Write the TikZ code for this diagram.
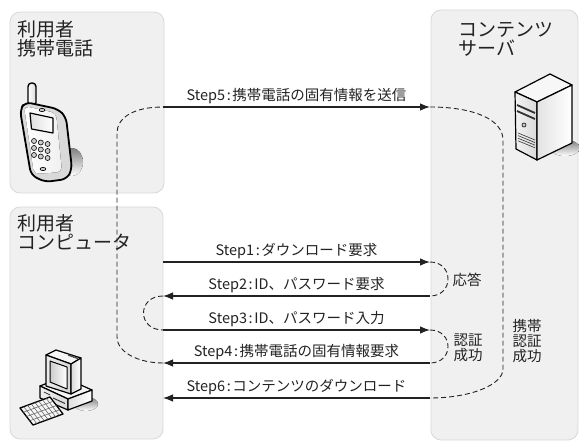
\documentclass[tikz,border=0pt]{standalone}
\usepackage{fontspec}
\setmainfont{Noto Sans CJK JP}
\usetikzlibrary{arrows.meta}
\definecolor{panelfill}{HTML}{F0F0F0}
\definecolor{paneledge}{HTML}{D8D8D8}
\definecolor{ink}{HTML}{222222}
\definecolor{shade}{HTML}{D9D9D9}
\newcommand{\stepcolon}{\kern1.6pt:\kern1.6pt}
\begin{document}
\begin{tikzpicture}[x=1pt,y=-1pt,
  panel/.style={fill=panelfill,draw=paneledge,line width=0.8pt,rounded corners=10pt},
  head/.style={anchor=north west,inner sep=0pt,align=left,text=ink,
    font=\fontsize{19}{19}\selectfont},
  flow/.style={line width=1.1pt,draw=ink,-{Latex[length=10pt,width=7.5pt]}},
  lbl/.style={midway,yshift=10.5pt,inner sep=0pt,text=ink,
    font=\fontsize{14.5}{15}\selectfont},
  dsh/.style={line width=0.9pt,draw=ink,dash pattern=on 5pt off 3pt},
  note/.style={inner sep=0pt,align=left,text=ink,font=\fontsize{14.5}{15}\selectfont},
  icon/.style={draw=black,line join=round},
]
\useasboundingbox (0,0) rectangle (579,441);

% panels
\draw[panel] (10,12) rectangle (164,193);
\draw[panel] (10,207) rectangle (163,439);
\draw[panel] (431,10) rectangle (578,440);

\node[head] (hphone) at (17,20) {利用者\\携帯電話};
\node[head] (hpc) at (17,214) {利用者\\コンピュータ};
\node[head] (hsrv) at (458,22) {コンテンツ\\サーバ};

% mobile phone
\fill[shade] (72,162) ellipse [x radius=11, y radius=14];
\draw[icon,line width=1.4pt,left color=white,right color=gray!30,rounded corners=3.5pt]
  (28,106) rectangle (36,83);
\draw[icon,line width=1.8pt,fill=gray!30,rounded corners=6pt]
  (20,110) -- (25,102) -- (58,109) -- (66,117) -- (72,169) -- (67,179) -- (45,182) -- (31,175) -- cycle;
\fill[left color=white,right color=gray!12,rounded corners=5pt]
  (24,106) -- (56,113) -- (62,172) -- (34,174) -- cycle;
\draw[icon,line width=1.2pt,left color=gray!25,right color=white]
  (30,113) -- (53,118) -- (53,133) -- (31.5,129) -- cycle;
\draw[icon,line width=0.6pt,fill=gray!45] (42,110) ellipse [x radius=3, y radius=1.6];
\foreach \c in {0,1,2}
  \foreach \r in {0,1,2}
    \draw[icon,line width=0.6pt,fill=gray!40] ({34+6.8*\c},{141+7*\r+1.5*\c}) circle [radius=2.5];
\draw[icon,line width=0.6pt,fill=gray!45] (43,169) ellipse [x radius=3, y radius=1.6];

% server
\fill[shade] (565,148) ellipse [x radius=15, y radius=8];
\draw[icon,line width=1.2pt,fill=gray!6] (515,92) -- (550,74) -- (572,85) -- (537,102) -- cycle;
\draw[icon,line width=1.2pt,left color=gray!10,right color=gray!30]
  (515,92) -- (537,102) -- (537,160) -- (516,149) -- cycle;
\draw[icon,line width=1.2pt,left color=gray!22,right color=white]
  (537,102) -- (572,85) -- (572,143) -- (537,160) -- cycle;
\draw[line width=1.8pt,black!80] (517,105) -- (535,113);
\draw[line width=1.8pt,black!80] (517,111) -- (535,119);
\draw[icon,line width=0.6pt,fill=gray!40] (524,125) circle [radius=2];
\foreach \k in {0,1,2,3}
  \draw[line width=0.6pt,black!80] (518,{133+2.6*\k}) -- (535,{140+2.6*\k});

% personal computer
\fill[shade] (86,404) ellipse [x radius=12, y radius=7];
\draw[icon,line width=1.2pt,fill=gray!8] (40,386) -- (63,377) -- (92,390) -- (68,399) -- cycle;
\draw[icon,line width=1.2pt,left color=gray!12,right color=gray!30]
  (40,386) -- (68,399) -- (68,410) -- (40,398) -- cycle;
\draw[icon,line width=1.2pt,left color=gray!25,right color=white]
  (68,399) -- (92,390) -- (92,401) -- (68,410) -- cycle;
\draw[line width=1pt,black!80] (53,398) -- (65,403.5);
\draw[line width=0.6pt] (44,392) -- (50,395);
\draw[icon,line width=1.2pt,fill=gray!8] (46,355) -- (56,350) -- (81,358) -- (71,364) -- cycle;
\draw[icon,line width=1.2pt,left color=gray!15,right color=gray!32]
  (46,355) -- (71,364) -- (71,394) -- (46,386) -- cycle;
\draw[icon,line width=1.2pt,left color=gray!30,right color=white]
  (71,364) -- (81,358) -- (81,389) -- (71,394) -- cycle;
\draw[line width=1.4pt,black!70] (68,355) -- (78,358.5);
\draw[icon,line width=1pt,left color=gray!40,right color=white]
  (50,361) -- (67,367) -- (67,389) -- (50,382) -- cycle;
\draw[icon,line width=1.3pt,fill=gray!8] (20,408) -- (50,397) -- (63,414) -- (33,425) -- cycle;
\foreach \t in {0.25,0.5,0.75}
  \draw[line width=0.5pt,gray!70!black] ({20+13*\t},{408+17*\t}) -- ({50+13*\t},{397+17*\t});
\foreach \s in {0.125,0.25,...,0.875}
  \draw[line width=0.5pt,gray!70!black] ({20+30*\s},{408-11*\s}) -- ({33+30*\s},{425-11*\s});

% message end points
\coordinate (s5a) at (163,107); \coordinate (s5b) at (430,107);
\coordinate (s1a) at (163,262); \coordinate (s1b) at (430,262);
\coordinate (s2a) at (163,296); \coordinate (s2b) at (430,296);
\coordinate (s3a) at (163,330); \coordinate (s3b) at (430,330);
\coordinate (s4a) at (163,363); \coordinate (s4b) at (430,363);
\coordinate (s6a) at (163,398); \coordinate (s6b) at (430,398);
\coordinate (ltop) at (117,133); \coordinate (lbot) at (117,337);
\coordinate (rtop) at (503,140); \coordinate (rbot) at (503,369);

% messages
\draw[flow] (s5a) -- node[lbl] (t5) {Step5\stepcolon 携帯電話の固有情報を送信} (s5b);
\draw[flow] (s1a) -- node[lbl] (t1) {Step1\stepcolon ダウンロード要求} (s1b);
\draw[flow] (s2b) -- node[lbl] (t2) {Step2\stepcolon ID、パスワード要求} (s2a);
\draw[flow] (s3a) -- node[lbl] (t3) {Step3\stepcolon ID、パスワード入力} (s3b);
\draw[flow] (s4b) -- node[lbl] (t4) {Step4\stepcolon 携帯電話の固有情報要求} (s4a);
\draw[flow] (s6b) -- node[lbl] (t6) {Step6\stepcolon コンテンツのダウンロード} (s6a);

% dashed links between messages
\draw[dsh] (s1b) .. controls +(24,0) and +(24,0) .. (s2b);
\draw[dsh] (s3b) .. controls +(24,0) and +(24,0) .. (s4b);
\draw[dsh] (s2a) .. controls +(-26,0) and +(-26,0) .. (s3a);
\draw[dsh] (s4a) .. controls +(-25,0) and +(0,15) .. (lbot) -- (ltop)
  .. controls +(0,-15) and +(-30,0) .. (s5a);
\draw[dsh] (s5b) .. controls +(45,0) and +(0,-20) .. (rtop) -- (rbot)
  .. controls +(0,16) and +(40,0) .. (s6b);

\node[note] (n1) at (467,280) {応答};
\node[note] (n2) at (468,348) {認証\\成功};
\node[note] (n3) at (527,341) {携帯\\認証\\成功};
\end{tikzpicture}
\end{document}
